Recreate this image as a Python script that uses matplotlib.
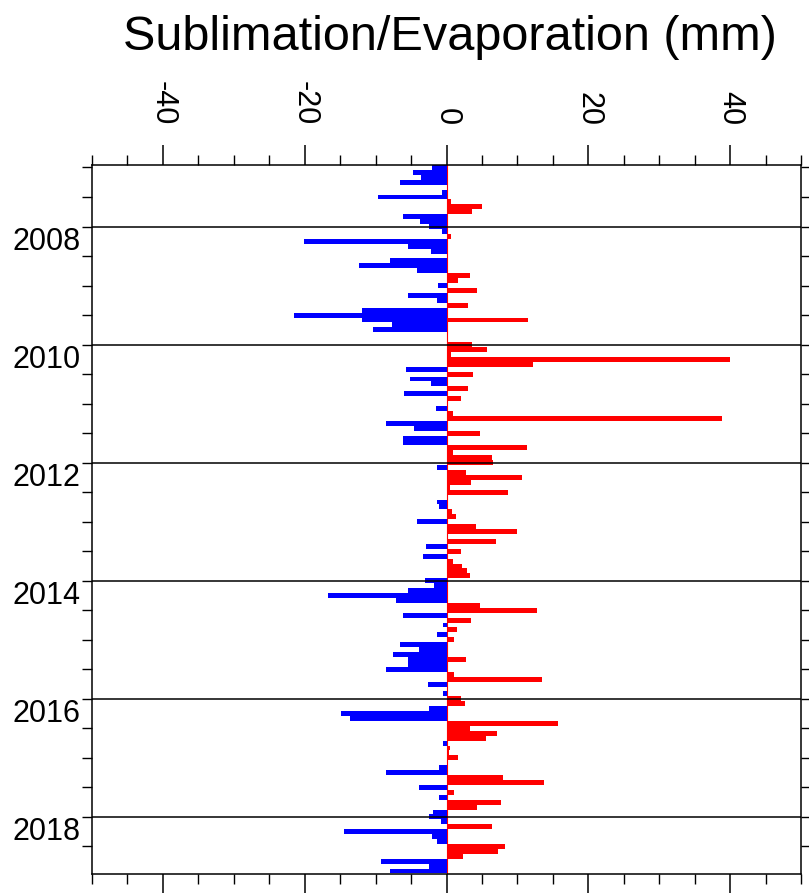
import numpy as np
import matplotlib.pyplot as plt
from matplotlib.ticker import MultipleLocator

plt.rcParams['font.family'] = ['Liberation Sans', 'DejaVu Sans']
plt.rcParams['axes.unicode_minus'] = False

# monthly totals in mm, Jan 2007 - Dec 2018, one row per year
sublimation = [
    -2.1, -4.7, -3.6, -6.5, 0, -0.6, -9.6, 0, 0, 0, -6.1, -3.7,        # 2007
    -2.4, -0.7, 0, -20.1, -5.5, -2.2, 0, -7.9, -12.4, -4.2, 0, 0,      # 2008
    -1.2, 0, -5.4, -1.3, 0, -11.9, -21.5, -11.9, -7.7, -10.3, 0, 0,    # 2009
    0, 0, 0, 0, 0, -5.7, 0, -5.2, -2.2, 0, -6.0, 0,                     # 2010
    0, -1.5, 0, 0, -8.6, -4.6, 0, -6.1, -6.1, 0, 0, 0,                  # 2011
    0, -1.3, 0, 0, 0, 0, 0, 0, -1.4, -1.1, 0, 0,                        # 2012
    -4.1, 0, 0, 0, 0, -2.9, 0, -3.3, 0, 0, 0, 0,                        # 2013
    -3.1, -1.7, -5.4, -16.7, -7.1, 0, 0, -6.2, 0, -0.5, 0, -1.3,        # 2014
    0, -6.6, -3.9, -7.6, -5.5, -5.5, -8.5, 0, 0, -2.6, 0, -0.5,         # 2015
    0, 0, -2.4, -14.9, -13.6, 0, 0, 0, 0, -0.5, 0, 0,                   # 2016
    0, 0, -1.1, -8.6, 0, 0, -3.9, 0, -1.0, 0, 0, -1.9,                  # 2017
    -2.4, -0.8, 0, -14.5, -2.1, -1.4, 0, 0, 0, -9.2, -2.5, -7.9,        # 2018
]
evaporation = [
    0, 0, 0, 0, 0.2, 0, 0, 0.6, 5.0, 3.6, 0, 0,                         # 2007
    0, 0, 0.6, 0, 0, 0, 0, 0, 0, 0, 3.3, 1.6,                           # 2008
    0, 4.3, 0, 0, 3.0, 0, 0, 11.5, 0, 0, 0, 0.2,                        # 2009
    3.6, 5.7, 0.6, 40.0, 12.2, 0, 3.8, 0, 0, 3.1, 0, 2.1,               # 2010
    0, 0, 0.9, 38.8, 0, 0, 4.7, 0, 0, 11.4, 0.9, 6.4,                   # 2011
    6.6, 0, 2.8, 10.7, 3.5, 0.5, 8.7, 0, 0, 0, 0.8, 1.4,                # 2012
    0, 4.1, 10.0, 0, 7.0, 0, 2.0, 0, 0.9, 2.2, 2.9, 3.3,                # 2013
    0, 0, 0, 0, 0, 4.7, 12.8, 0, 3.5, 0, 1.5, 0,                        # 2014
    1.1, 0, 0, 0, 2.8, 0, 0, 1.0, 13.4, 0, 0, 0,                        # 2015
    2.0, 2.6, 0, 0, 0, 15.7, 3.3, 7.1, 5.6, 0, 0.5, 0.3,                # 2016
    1.6, 0, 0, 0, 7.9, 13.7, 0, 1.0, 0, 7.7, 4.3, 0,                    # 2017
    0, 0, 6.4, 0, 0, 0, 8.2, 7.2, 2.3, 0, 0, 0,                         # 2018
]
first_year = 2007
label_years = [2008, 2010, 2012, 2014, 2016, 2018]

# decimal year of each month
t = first_year + np.arange(len(evaporation)) / 12.0
month = 1 / 12.0

fig = plt.figure(figsize=(8.09, 8.93), dpi=100)
ax = fig.add_axes([92 / 809, 1 - 873.5 / 893, 709 / 809, 708.5 / 893])

ax.barh(t, evaporation, height=month, color='#ff0000', linewidth=0, zorder=2)
ax.barh(t, sublimation, height=month, color='#0000ff', linewidth=0, zorder=2)
ax.axvline(0, color='#ff0000', lw=0.8, zorder=1.5)
for yr in label_years:
    ax.axhline(yr, color='black', lw=1.1, zorder=3)

ax.set_xlim(-50, 50)
ax.set_ylim(first_year + 12 - month / 2, first_year - month / 2)

ax.xaxis.set_major_locator(MultipleLocator(20))
ax.xaxis.set_minor_locator(MultipleLocator(5))
ax.tick_params(axis='x', which='both', top=True, bottom=True,
               labeltop=True, labelbottom=False, direction='out')
ax.tick_params(axis='x', which='major', length=14.4, width=1.1,
               labelsize=22, pad=14, labelrotation=-90)
ax.tick_params(axis='x', which='minor', length=7.2, width=1.0)

ax.set_yticks(label_years)
ax.set_yticklabels([str(y) for y in label_years])
ax.yaxis.set_minor_locator(MultipleLocator(0.5))
ax.tick_params(axis='y', which='both', left=True, right=True,
               direction='out', length=7.2, width=1.0)
ax.tick_params(axis='y', which='major', labelsize=22, pad=1)
for lbl in ax.get_yticklabels():
    lbl.set_va('top')

for sp in ax.spines.values():
    sp.set_linewidth(1.1)

fig.text(450 / 809, 1 - 50 / 893, 'Sublimation/Evaporation (mm)',
         ha='center', va='baseline', fontsize=35)

fig.savefig('out.png', dpi=100)
